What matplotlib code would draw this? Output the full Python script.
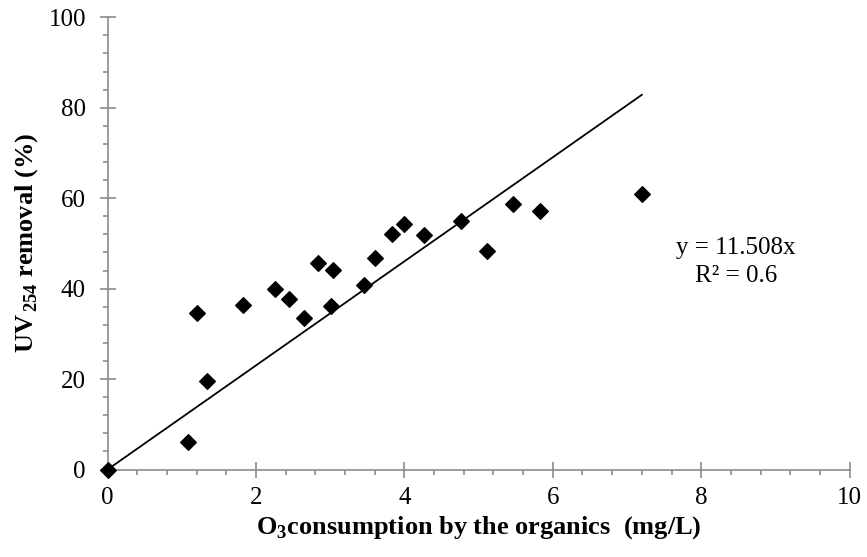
import numpy as np
import matplotlib
matplotlib.use('Agg')
import matplotlib.pyplot as plt
from matplotlib.ticker import MultipleLocator

plt.rcParams['font.family'] = ['Liberation Serif', 'DejaVu Serif']
plt.rcParams['mathtext.fontset'] = 'custom'
plt.rcParams['mathtext.rm'] = 'Liberation Serif'
plt.rcParams['mathtext.bf'] = 'Liberation Serif:bold'

# O3 consumption (mg/L) vs UV254 removal (%)
o3_consumed = [0, 1.08, 1.20, 1.345, 1.82, 2.26, 2.45, 2.65, 2.83, 3.04, 3.01,
               3.46, 3.61, 3.84, 4.00, 4.27, 4.76, 5.11, 5.46, 5.83, 7.20]
uv_removal = [0, 6.1, 34.7, 19.6, 36.3, 40.0, 37.7, 33.6, 45.6, 44.2, 36.1,
              40.9, 46.8, 52.1, 54.2, 51.8, 54.9, 48.4, 58.8, 57.2, 60.9]
slope = 11.508
r2 = 0.6

fig = plt.figure(figsize=(8.67, 5.57), dpi=100)
ax = fig.add_axes([0.124, 0.157, 0.856, 0.812])

# trend line through origin
xl = np.array([0, max(o3_consumed)])
ax.plot(xl, slope * xl, color='black', lw=1.3, zorder=2)
ax.plot(o3_consumed, uv_removal, 'D', color='black', ms=8.3, mew=0.8,
        zorder=3, clip_on=False)

ax.set_xlim(0, 10)
ax.set_ylim(0, 100)
ax.xaxis.set_major_locator(MultipleLocator(2))
ax.xaxis.set_minor_locator(MultipleLocator(0.4))
ax.yaxis.set_major_locator(MultipleLocator(20))
ax.yaxis.set_minor_locator(MultipleLocator(4))

for s in ['top', 'right']:
    ax.spines[s].set_visible(False)
for s in ['left', 'bottom']:
    ax.spines[s].set_color('#8c8c8c')
    ax.spines[s].set_linewidth(1.2)
ax.tick_params(which='major', direction='inout', length=11, width=1.2,
               color='#8c8c8c', labelsize=18)
ax.tick_params(which='minor', direction='out', length=3.8, width=1.2,
               color='#8c8c8c')
ax.tick_params(axis='y', which='major', pad=10)
ax.tick_params(axis='x', which='major', pad=7)

ax.set_xlabel(r'O$_{\mathbf{3}}$consumption by the organics  (mg/L)',
              fontsize=19, fontweight='bold', labelpad=4)
ax.set_ylabel(r'UV$_{\,\mathbf{254}}$ removal (%)', fontsize=19,
              fontweight='bold', labelpad=6)

ax.text(8.47, 49, 'y = %.3fx' % slope, fontsize=18, ha='center', va='center')
ax.text(8.47, 42.8, 'R² = %s' % r2, fontsize=18, ha='center', va='center')

fig.savefig('out.png', dpi=100)
